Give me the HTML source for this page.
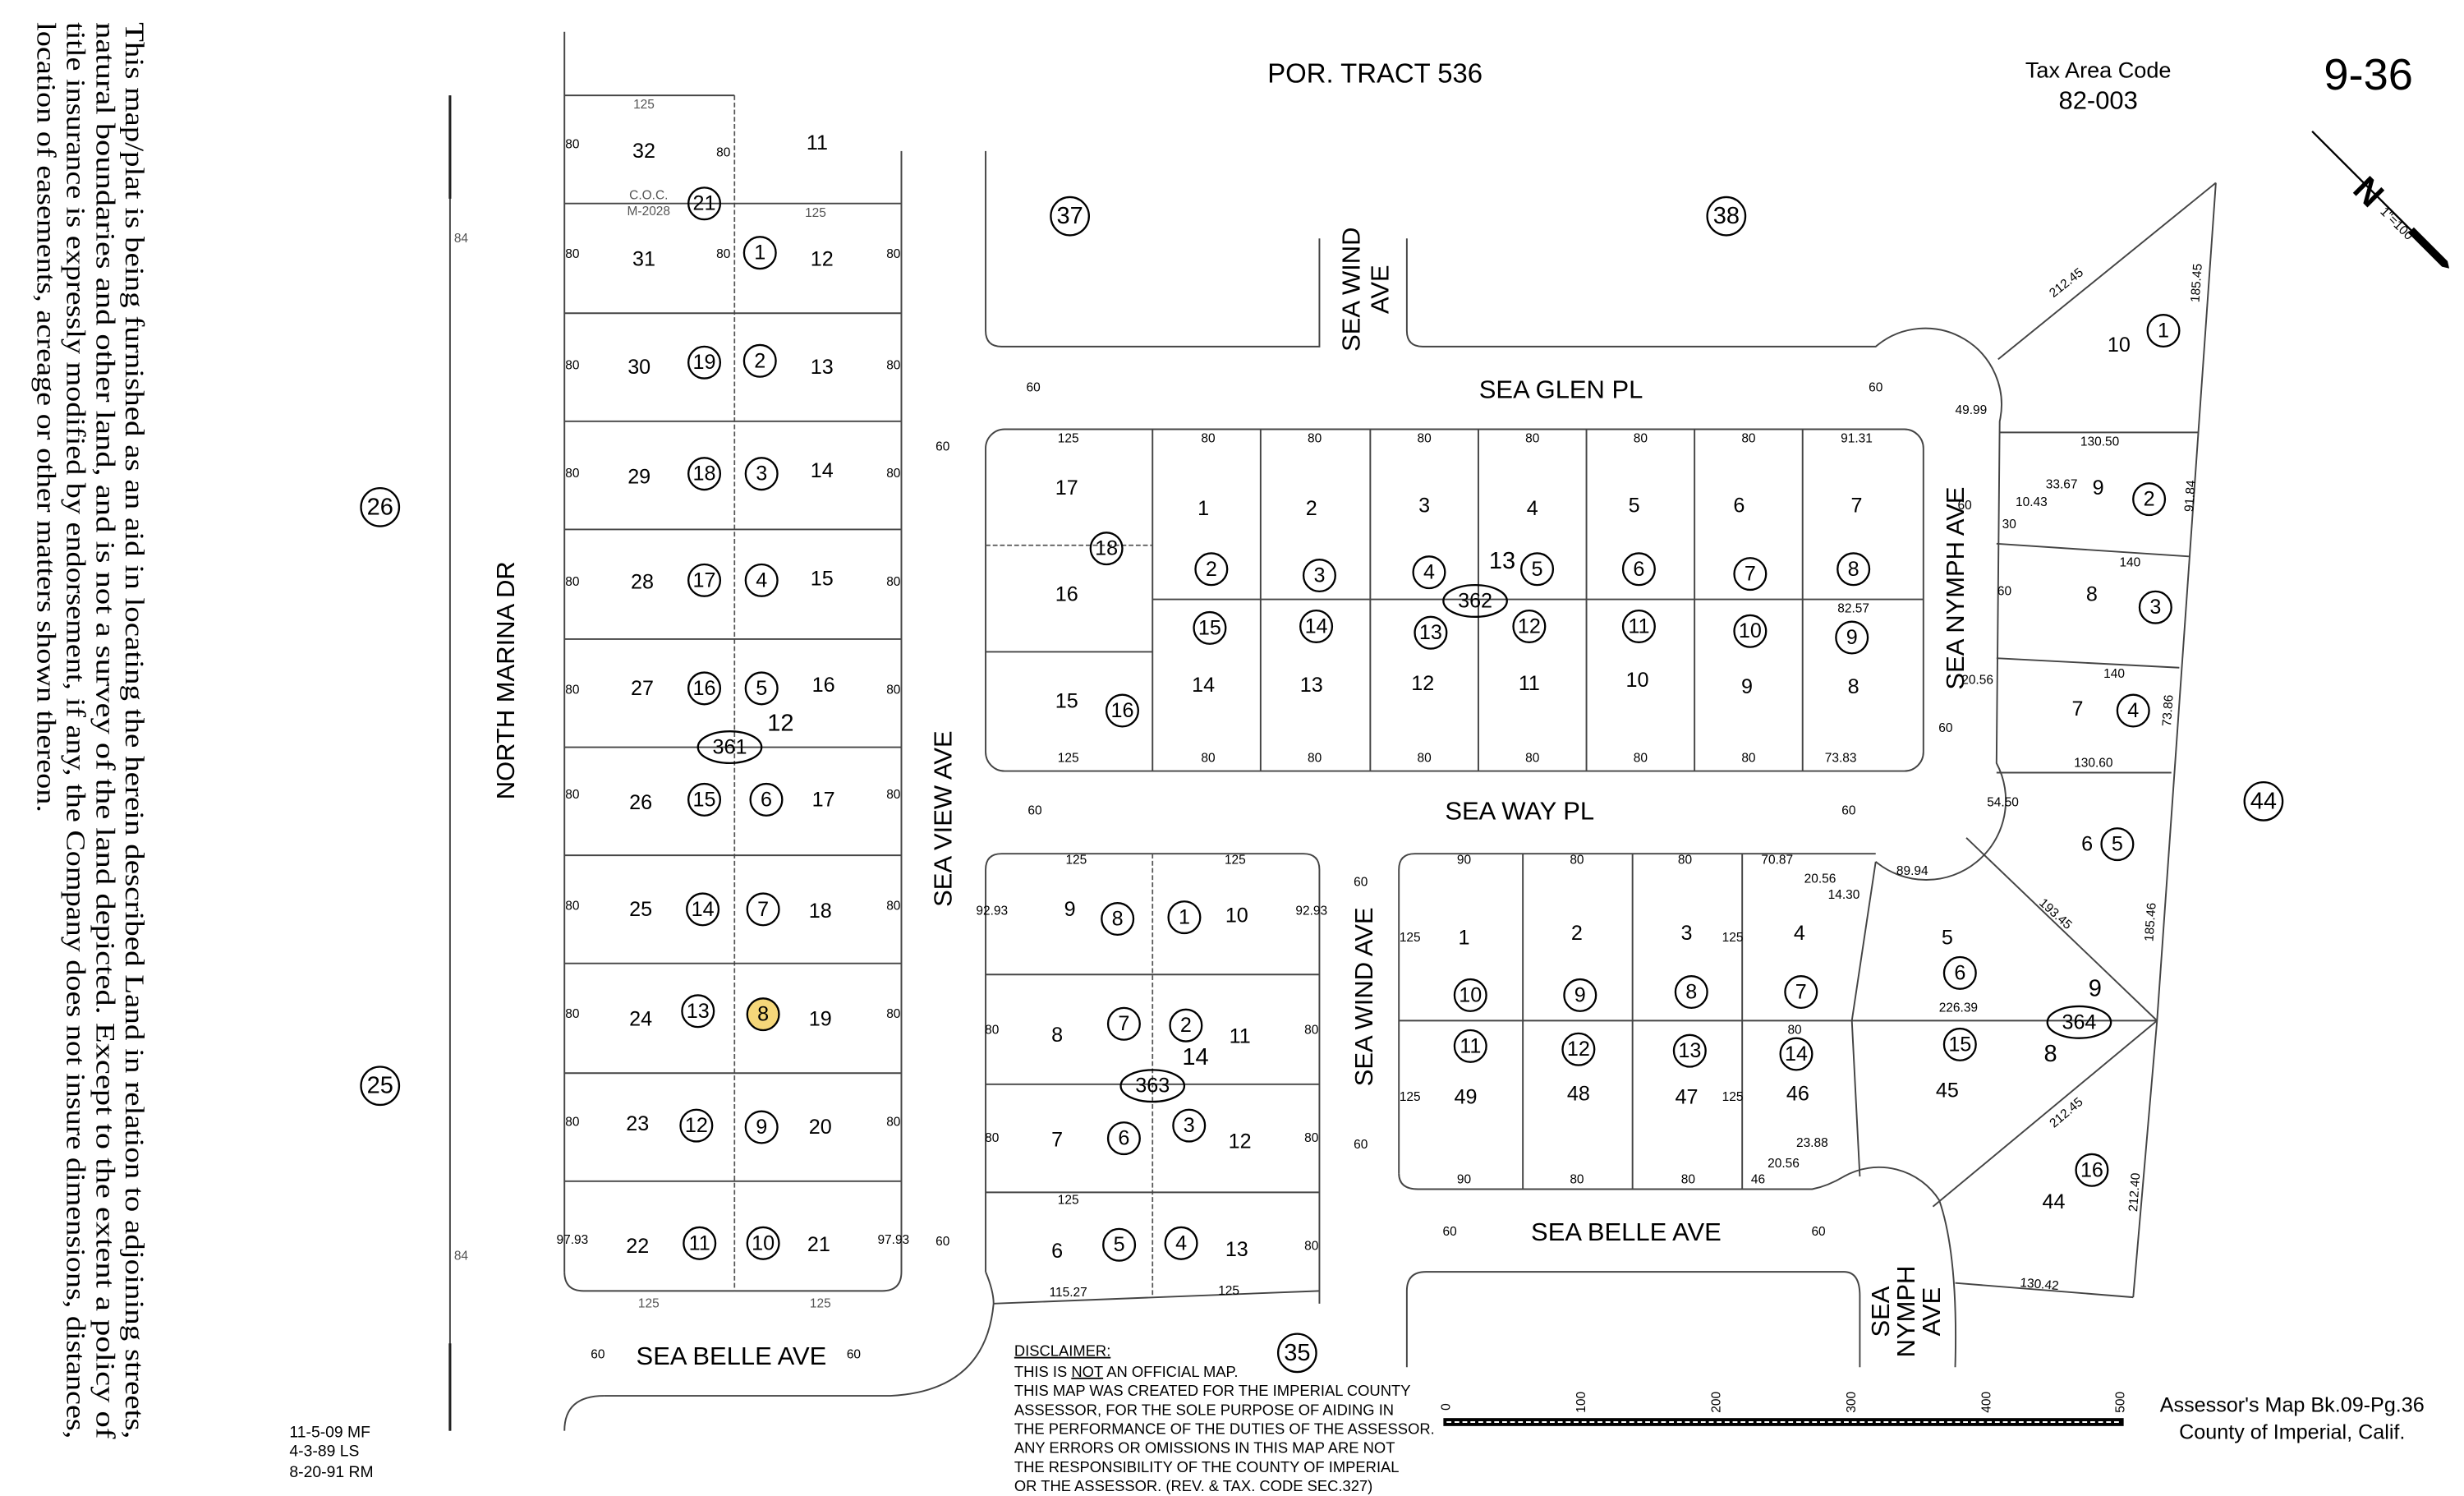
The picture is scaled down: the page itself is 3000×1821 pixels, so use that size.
<!DOCTYPE html>
<html><head><meta charset="utf-8">
<style>
html,body{margin:0;padding:0;background:#fff;}
svg{display:block;}
text{font-family:"Liberation Sans",sans-serif;fill:#000;}
.n{font-size:13px;text-anchor:middle;dominant-baseline:central;fill:#333;}
.d{font-size:8px;text-anchor:middle;dominant-baseline:central;fill:#555;}
.s{font-size:16px;text-anchor:middle;dominant-baseline:central;}
.c{fill:none;stroke:#000;stroke-width:1.2;}
.l{fill:none;stroke:#444;stroke-width:1;}
.dl{fill:none;stroke:#555;stroke-width:0.9;stroke-dasharray:3,1.5;}
.cn{font-size:13px;text-anchor:middle;dominant-baseline:central;}
</style></head>
<body>
<svg width="3000" height="1821" viewBox="0 0 1550 941" xmlns="http://www.w3.org/2000/svg">
<rect width="1550" height="941" fill="#fff"/>

<g transform="translate(79,14) rotate(90)">
<text x="0" y="0" textLength="891" lengthAdjust="spacingAndGlyphs" style="font-family:'Liberation Serif',serif;font-size:17px">This map/plat is being furnished as an aid in locating the herein described Land in relation to adjoining streets,</text>
<text x="0" y="18.5" textLength="891" lengthAdjust="spacingAndGlyphs" style="font-family:'Liberation Serif',serif;font-size:17px">natural boundaries and other land, and is not a survey of the land depicted. Except to the extent a policy of</text>
<text x="0" y="37" textLength="891" lengthAdjust="spacingAndGlyphs" style="font-family:'Liberation Serif',serif;font-size:17px">title insurance is expressly modified by endorsement, if any, the Company does not insure dimensions, distances,</text>
<text x="0" y="55.5" textLength="497" lengthAdjust="spacingAndGlyphs" style="font-family:'Liberation Serif',serif;font-size:17px">location of easements, acreage or other matters shown thereon.</text>
</g>

<line x1="283" y1="60" x2="283" y2="900" class="l"/>
<line x1="283" y1="60" x2="283" y2="125" stroke="#222" stroke-width="1.6"/>
<line x1="283" y1="845" x2="283" y2="900" stroke="#222" stroke-width="1.6"/>
<text class="d" x="290" y="150">84</text><text class="d" x="290" y="790">84</text>

<line x1="355" y1="20" x2="355" y2="800" class="l"/>
<path d="M355,800 Q355,812 367,812 H555 Q567,812 567,800 V95" class="l"/>
<line x1="355" y1="60" x2="462" y2="60" class="l"/>
<line x1="462" y1="60" x2="462" y2="812" class="dl"/>
<g class="l">
<line x1="355" y1="128" x2="567" y2="128"/><line x1="355" y1="197" x2="567" y2="197"/>
<line x1="355" y1="265" x2="567" y2="265"/><line x1="355" y1="333" x2="567" y2="333"/>
<line x1="355" y1="402" x2="567" y2="402"/><line x1="355" y1="470" x2="567" y2="470"/>
<line x1="355" y1="538" x2="567" y2="538"/><line x1="355" y1="606" x2="567" y2="606"/>
<line x1="355" y1="675" x2="567" y2="675"/><line x1="355" y1="743" x2="567" y2="743"/>
</g>
<text class="d" x="405" y="66">125</text><text class="d" x="513" y="134">125</text>
<text class="d" x="408" y="820">125</text><text class="d" x="516" y="820">125</text>
<text class="d" x="408" y="123">C.O.C.</text><text class="d" x="408" y="133">M-2028</text>
<g class="d">
<text x="360" y="91">80</text><text x="455" y="96">80</text>
<text x="360" y="160">80</text><text x="455" y="160">80</text><text x="562" y="160">80</text>
<text x="360" y="230">80</text><text x="562" y="230">80</text>
<text x="360" y="298">80</text><text x="562" y="298">80</text>
<text x="360" y="366">80</text><text x="562" y="366">80</text>
<text x="360" y="434">80</text><text x="562" y="434">80</text>
<text x="360" y="500">80</text><text x="562" y="500">80</text>
<text x="360" y="570">80</text><text x="562" y="570">80</text>
<text x="360" y="638">80</text><text x="562" y="638">80</text>
<text x="360" y="706">80</text><text x="562" y="706">80</text>
<text x="360" y="780">97.93</text><text x="562" y="780">97.93</text>
</g>
<g class="n">
<text x="405" y="95">32</text><text x="514" y="90">11</text>
<text x="405" y="163">31</text><text x="517" y="163">12</text>
<text x="402" y="231">30</text><text x="517" y="231">13</text>
<text x="402" y="300">29</text><text x="517" y="296">14</text>
<text x="404" y="366">28</text><text x="517" y="364">15</text>
<text x="404" y="433">27</text><text x="518" y="431">16</text>
<text x="403" y="505">26</text><text x="518" y="503">17</text>
<text x="403" y="572">25</text><text x="516" y="573">18</text>
<text x="403" y="641">24</text><text x="516" y="641">19</text>
<text x="401" y="707">23</text><text x="516" y="709">20</text>
<text x="401" y="784">22</text><text x="515" y="783">21</text>
</g>
<g>
<circle cx="443" cy="128" r="10" class="c"/><text class="cn" x="443" y="128">21</text>
<circle cx="478" cy="159" r="10" class="c"/><text class="cn" x="478" y="159">1</text>
<circle cx="443" cy="228" r="10" class="c"/><text class="cn" x="443" y="228">19</text>
<circle cx="478" cy="227" r="10" class="c"/><text class="cn" x="478" y="227">2</text>
<circle cx="443" cy="298" r="10" class="c"/><text class="cn" x="443" y="298">18</text>
<circle cx="479" cy="298" r="10" class="c"/><text class="cn" x="479" y="298">3</text>
<circle cx="443" cy="365" r="10" class="c"/><text class="cn" x="443" y="365">17</text>
<circle cx="479" cy="365" r="10" class="c"/><text class="cn" x="479" y="365">4</text>
<circle cx="443" cy="433" r="10" class="c"/><text class="cn" x="443" y="433">16</text>
<circle cx="479" cy="433" r="10" class="c"/><text class="cn" x="479" y="433">5</text>
<circle cx="443" cy="503" r="10" class="c"/><text class="cn" x="443" y="503">15</text>
<circle cx="482" cy="503" r="10" class="c"/><text class="cn" x="482" y="503">6</text>
<circle cx="442" cy="572" r="10" class="c"/><text class="cn" x="442" y="572">14</text>
<circle cx="480" cy="572" r="10" class="c"/><text class="cn" x="480" y="572">7</text>
<circle cx="439" cy="636" r="10" class="c"/><text class="cn" x="439" y="636">13</text>
<circle cx="480" cy="638" r="10" fill="#f5d77a" stroke="#000" stroke-width="1.2"/><text class="cn" x="480" y="638">8</text>
<circle cx="438" cy="708" r="10" class="c"/><text class="cn" x="438" y="708">12</text>
<circle cx="479" cy="709" r="10" class="c"/><text class="cn" x="479" y="709">9</text>
<circle cx="440" cy="782" r="10" class="c"/><text class="cn" x="440" y="782">11</text>
<circle cx="480" cy="782" r="10" class="c"/><text class="cn" x="480" y="782">10</text>
<ellipse cx="459" cy="470" rx="20" ry="10" class="c" fill="#fff"/><text class="cn" x="459" y="470">361</text>
<text class="cn" x="491" y="455" style="font-size:15px">12</text>
</g>

<text class="s" transform="translate(318,428) rotate(-90)">NORTH MARINA DR</text>

<circle cx="239" cy="319" r="12" class="c"/><text class="cn" x="239" y="319" style="font-size:15px">26</text>
<circle cx="239" cy="683" r="12" class="c"/><text class="cn" x="239" y="683" style="font-size:15px">25</text>
<circle cx="673" cy="136" r="12" class="c"/><text class="cn" x="673" y="136" style="font-size:15px">37</text>
<circle cx="1086" cy="136" r="12" class="c"/><text class="cn" x="1086" y="136" style="font-size:15px">38</text>
<circle cx="1424" cy="504" r="12" class="c"/><text class="cn" x="1424" y="504" style="font-size:15px">44</text>
<circle cx="816" cy="851" r="12" class="c"/><text class="cn" x="816" y="851" style="font-size:15px">35</text>

<text x="865" y="46" class="s" style="font-size:17px">POR. TRACT 536</text>
<text x="1320" y="44" class="s" style="font-size:14px">Tax Area Code</text>
<text x="1320" y="63" class="s" style="font-size:16px">82-003</text>
<text x="1490" y="47" class="s" style="font-size:28px">9-36</text>
<g transform="translate(1497,125) rotate(-45)">
<line x1="0" y1="-60" x2="0" y2="60" stroke="#000" stroke-width="1.2"/>
<polygon points="-2.5,28 2.5,28 2.5,58 0,62 -2.5,58" fill="#000"/>
<text x="-2" y="-8" class="s" style="font-size:22px;font-weight:bold" transform="rotate(90 -2 -8)">N</text>
<text x="-6" y="6" style="font-size:8px" transform="rotate(90 -6 6)">1"=100'</text>
</g>

<path d="M620,95 V208 Q620,218 630,218 H830 V150" class="l"/>
<path d="M885,150 V208 Q885,218 895,218 H1180 A48,48 0 0 1 1258,265 L1256,480 A50,50 0 0 1 1180,542" class="l"/>
<text class="s" transform="translate(850,182) rotate(-90)">SEA WIND</text>
<text class="s" transform="translate(868,182) rotate(-90)">AVE</text>
<text class="s" x="982" y="245">SEA GLEN PL</text>
<text class="s" transform="translate(1230,370) rotate(-90)">SEA NYMPH AVE</text>
<text class="s" x="956" y="510">SEA WAY PL</text>
<text class="s" transform="translate(593,515) rotate(-90)">SEA VIEW AVE</text>
<text class="s" transform="translate(858,627) rotate(-90)">SEA WIND AVE</text>
<text class="s" x="1023" y="775">SEA BELLE AVE</text>
<text class="s" x="460" y="853">SEA BELLE AVE</text>
<text class="s" transform="translate(1183,825) rotate(-90)">SEA</text>
<text class="s" transform="translate(1199,825) rotate(-90)">NYMPH</text>
<text class="s" transform="translate(1215,825) rotate(-90)">AVE</text>
<g class="d"><text x="650" y="244">60</text><text x="1180" y="244">60</text><text x="593" y="281">60</text><text x="1236" y="318">60</text><text x="1261" y="372">60</text><text x="651" y="510">60</text><text x="1163" y="510">60</text><text x="1224" y="458">60</text><text x="856" y="555">60</text><text x="856" y="720">60</text><text x="593" y="781">60</text><text x="912" y="775">60</text><text x="1144" y="775">60</text><text x="376" y="852">60</text><text x="537" y="852">60</text></g>

<rect x="620" y="270" width="590" height="215" rx="12" class="l"/>
<g class="l">
<line x1="725" y1="270" x2="725" y2="485"/><line x1="793" y1="270" x2="793" y2="485"/>
<line x1="862" y1="270" x2="862" y2="485"/><line x1="930" y1="270" x2="930" y2="485"/>
<line x1="998" y1="270" x2="998" y2="485"/><line x1="1066" y1="270" x2="1066" y2="485"/>
<line x1="1134" y1="270" x2="1134" y2="485"/>
<line x1="725" y1="377" x2="1210" y2="377"/><line x1="620" y1="410" x2="725" y2="410"/>
</g>
<line x1="620" y1="343" x2="725" y2="343" class="dl"/>
<g class="d">
<text x="672" y="276">125</text><text x="760" y="276">80</text><text x="827" y="276">80</text><text x="896" y="276">80</text><text x="964" y="276">80</text><text x="1032" y="276">80</text><text x="1100" y="276">80</text><text x="1168" y="276">91.31</text>
<text x="672" y="477">125</text><text x="760" y="477">80</text><text x="827" y="477">80</text><text x="896" y="477">80</text><text x="964" y="477">80</text><text x="1032" y="477">80</text><text x="1100" y="477">80</text><text x="1158" y="477">73.83</text>
<text x="1166" y="383">82.57</text>
</g>
<g class="n">
<text x="671" y="307">17</text><text x="671" y="374">16</text><text x="671" y="441">15</text>
<text x="757" y="320">1</text><text x="825" y="320">2</text><text x="896" y="318">3</text><text x="964" y="320">4</text><text x="1028" y="318">5</text><text x="1094" y="318">6</text><text x="1168" y="318">7</text>
<text x="757" y="431">14</text><text x="825" y="431">13</text><text x="895" y="430">12</text><text x="962" y="430">11</text><text x="1030" y="428">10</text><text x="1099" y="432">9</text><text x="1166" y="432">8</text>
</g>
<g>
<circle cx="696" cy="345" r="10" class="c"/><text class="cn" x="696" y="345">18</text>
<circle cx="706" cy="447" r="10" class="c"/><text class="cn" x="706" y="447">16</text>
<circle cx="762" cy="358" r="10" class="c"/><text class="cn" x="762" y="358">2</text>
<circle cx="830" cy="362" r="10" class="c"/><text class="cn" x="830" y="362">3</text>
<circle cx="899" cy="360" r="10" class="c"/><text class="cn" x="899" y="360">4</text>
<circle cx="967" cy="358" r="10" class="c"/><text class="cn" x="967" y="358">5</text>
<circle cx="1031" cy="358" r="10" class="c"/><text class="cn" x="1031" y="358">6</text>
<circle cx="1101" cy="361" r="10" class="c"/><text class="cn" x="1101" y="361">7</text>
<circle cx="1166" cy="358" r="10" class="c"/><text class="cn" x="1166" y="358">8</text>
<circle cx="761" cy="395" r="10" class="c"/><text class="cn" x="761" y="395">15</text>
<circle cx="828" cy="394" r="10" class="c"/><text class="cn" x="828" y="394">14</text>
<circle cx="900" cy="398" r="10" class="c"/><text class="cn" x="900" y="398">13</text>
<circle cx="962" cy="394" r="10" class="c"/><text class="cn" x="962" y="394">12</text>
<circle cx="1031" cy="394" r="10" class="c"/><text class="cn" x="1031" y="394">11</text>
<circle cx="1101" cy="397" r="10" class="c"/><text class="cn" x="1101" y="397">10</text>
<circle cx="1165" cy="401" r="10" class="c"/><text class="cn" x="1165" y="401">9</text>
<ellipse cx="928" cy="378" rx="20" ry="10" class="c" fill="#fff"/><text class="cn" x="928" y="378">362</text>
<text class="cn" x="945" y="353" style="font-size:15px">13</text>
</g>

<path d="M620,800 V547 Q620,537 630,537 H820 Q830,537 830,547 V820" class="l"/>
<path d="M625,820 L830,812" class="l"/>
<path d="M620,800 Q625,812 625,820" class="l"/>
<path d="M380,878 H560 Q620,875 625,820" class="l"/>
<path d="M355,900 Q355,878 380,878" class="l"/>
<line x1="725" y1="537" x2="725" y2="815" class="dl"/>
<g class="l"><line x1="620" y1="613" x2="830" y2="613"/><line x1="620" y1="682" x2="830" y2="682"/><line x1="620" y1="750" x2="830" y2="750"/></g>
<g class="d"><text x="677" y="541">125</text><text x="777" y="541">125</text><text x="672" y="755">125</text><text x="773" y="812">125</text><text x="672" y="813">115.27</text>
<text x="624" y="573">92.93</text><text x="825" y="573">92.93</text><text x="624" y="648">80</text><text x="825" y="648">80</text><text x="624" y="716">80</text><text x="825" y="716">80</text><text x="825" y="784">80</text></g>
<g class="n"><text x="673" y="572">9</text><text x="778" y="576">10</text><text x="665" y="651">8</text><text x="780" y="652">11</text><text x="665" y="717">7</text><text x="780" y="718">12</text><text x="665" y="787">6</text><text x="778" y="786">13</text></g>
<g>
<circle cx="703" cy="578" r="10" class="c"/><text class="cn" x="703" y="578">8</text>
<circle cx="745" cy="577" r="10" class="c"/><text class="cn" x="745" y="577">1</text>
<circle cx="707" cy="644" r="10" class="c"/><text class="cn" x="707" y="644">7</text>
<circle cx="746" cy="645" r="10" class="c"/><text class="cn" x="746" y="645">2</text>
<circle cx="707" cy="716" r="10" class="c"/><text class="cn" x="707" y="716">6</text>
<circle cx="748" cy="708" r="10" class="c"/><text class="cn" x="748" y="708">3</text>
<circle cx="704" cy="783" r="10" class="c"/><text class="cn" x="704" y="783">5</text>
<circle cx="743" cy="782" r="10" class="c"/><text class="cn" x="743" y="782">4</text>
<ellipse cx="725" cy="683" rx="20" ry="10" class="c" fill="#fff"/><text class="cn" x="725" y="683">363</text>
<text class="cn" x="752" y="665" style="font-size:15px">14</text>
</g>

<path d="M880,738 V547 Q880,537 890,537 H1180" class="l"/>
<path d="M880,738 Q880,748 892,748 H1140 Q1150,746 1160,740 A45,45 0 0 1 1220,755 Q1232,790 1230,860" class="l"/>
<path d="M885,860 V812 Q885,800 897,800 H1160 Q1170,800 1170,815 V860" class="l"/>
<g class="l">
<line x1="958" y1="537" x2="958" y2="748"/><line x1="1027" y1="537" x2="1027" y2="748"/><line x1="1096" y1="537" x2="1096" y2="748"/>
<line x1="880" y1="642" x2="1357" y2="642"/>
<line x1="1180" y1="542" x2="1165" y2="642"/><line x1="1165" y1="642" x2="1170" y2="740"/>
<line x1="1237" y1="527" x2="1357" y2="642"/>
<line x1="1216" y1="759" x2="1357" y2="642"/>
<line x1="1230" y1="807" x2="1342" y2="816"/>
</g>
<g class="d"><text x="921" y="541">90</text><text x="992" y="541">80</text><text x="1060" y="541">80</text><text x="1118" y="541">70.87</text><text x="1203" y="548">89.94</text>
<text x="921" y="742">90</text><text x="992" y="742">80</text><text x="1062" y="742">80</text><text x="1106" y="742">46</text><text x="1129" y="648">80</text><text x="1232" y="634">226.39</text>
<text x="1145" y="553">20.56</text><text x="1160" y="563">14.30</text><text x="1140" y="719">23.88</text><text x="1122" y="732">20.56</text>
<text x="887" y="590">125</text><text x="887" y="690">125</text><text x="1090" y="590">125</text><text x="1090" y="690">125</text></g>
<g class="n"><text x="921" y="590">1</text><text x="992" y="587">2</text><text x="1061" y="587">3</text><text x="1132" y="587">4</text>
<text x="922" y="690">49</text><text x="993" y="688">48</text><text x="1061" y="690">47</text><text x="1131" y="688">46</text>
<text x="1225" y="590">5</text><text x="1225" y="686">45</text></g>
<g>
<circle cx="925" cy="626" r="10" class="c"/><text class="cn" x="925" y="626">10</text>
<circle cx="994" cy="626" r="10" class="c"/><text class="cn" x="994" y="626">9</text>
<circle cx="1064" cy="624" r="10" class="c"/><text class="cn" x="1064" y="624">8</text>
<circle cx="1133" cy="624" r="10" class="c"/><text class="cn" x="1133" y="624">7</text>
<circle cx="925" cy="658" r="10" class="c"/><text class="cn" x="925" y="658">11</text>
<circle cx="993" cy="660" r="10" class="c"/><text class="cn" x="993" y="660">12</text>
<circle cx="1063" cy="661" r="10" class="c"/><text class="cn" x="1063" y="661">13</text>
<circle cx="1130" cy="663" r="10" class="c"/><text class="cn" x="1130" y="663">14</text>
<circle cx="1233" cy="612" r="10" class="c"/><text class="cn" x="1233" y="612">6</text>
<circle cx="1233" cy="657" r="10" class="c"/><text class="cn" x="1233" y="657">15</text>
</g>

<!-- right triangle area -->
<g class="l">
<line x1="1394" y1="115" x2="1257" y2="226"/>
<line x1="1394" y1="115" x2="1357" y2="642"/>
<line x1="1357" y1="642" x2="1342" y2="816"/>
<line x1="1258" y1="272" x2="1383" y2="272"/>
<line x1="1256" y1="342" x2="1377" y2="350"/>
<line x1="1256" y1="414" x2="1371" y2="420"/>
<line x1="1256" y1="486" x2="1366" y2="486"/>
</g>
<g class="d"><text x="1300" y="178" transform="rotate(-38 1300 178)">212.45</text><text transform="translate(1382,178) rotate(-86)">185.45</text><text x="1321" y="278">130.50</text><text x="1340" y="354">140</text><text x="1330" y="424">140</text><text x="1317" y="480">130.60</text><text transform="translate(1378,312) rotate(-86)">91.84</text><text transform="translate(1364,447) rotate(-86)">73.86</text><text transform="translate(1353,580) rotate(-86)">185.46</text><text transform="translate(1343,750) rotate(-86)">212.40</text><text x="1283" y="808" transform="rotate(5 1283 808)">130.42</text><text x="1293" y="575" transform="rotate(42 1293 575)">193.45</text><text x="1300" y="700" transform="rotate(-40 1300 700)">212.45</text><text x="1240" y="258">49.99</text><text x="1297" y="305">33.67</text><text x="1278" y="316">10.43</text><text x="1264" y="330">30</text><text x="1244" y="428">20.56</text><text x="1260" y="505">54.50</text></g>
<g class="n"><text x="1333" y="217">10</text><text x="1320" y="307">9</text><text x="1316" y="374">8</text><text x="1307" y="446">7</text><text x="1313" y="531">6</text><text x="1292" y="756">44</text></g>
<g>
<circle cx="1361" cy="208" r="10" class="c"/><text class="cn" x="1361" y="208">1</text>
<circle cx="1352" cy="314" r="10" class="c"/><text class="cn" x="1352" y="314">2</text>
<circle cx="1356" cy="382" r="10" class="c"/><text class="cn" x="1356" y="382">3</text>
<circle cx="1342" cy="447" r="10" class="c"/><text class="cn" x="1342" y="447">4</text>
<circle cx="1332" cy="531" r="10" class="c"/><text class="cn" x="1332" y="531">5</text>
<circle cx="1316" cy="736" r="10" class="c"/><text class="cn" x="1316" y="736">16</text>
<ellipse cx="1308" cy="643" rx="20" ry="10" class="c" fill="#fff"/><text class="cn" x="1308" y="643">364</text>
<text class="cn" x="1318" y="622" style="font-size:15px">9</text>
<text class="cn" x="1290" y="663" style="font-size:15px">8</text>
</g>

<g style="font-size:9.5px">
<text x="638" y="853" text-decoration="underline">DISCLAIMER:</text>
<text x="638" y="866">THIS IS <tspan text-decoration="underline">NOT</tspan> AN OFFICIAL MAP.</text>
<text x="638" y="878">THIS MAP WAS CREATED FOR THE IMPERIAL COUNTY</text>
<text x="638" y="890">ASSESSOR, FOR THE SOLE PURPOSE OF AIDING IN</text>
<text x="638" y="902">THE PERFORMANCE OF THE DUTIES OF THE ASSESSOR.</text>
<text x="638" y="914">ANY ERRORS OR OMISSIONS IN THIS MAP ARE NOT</text>
<text x="638" y="926">THE RESPONSIBILITY OF THE COUNTY OF IMPERIAL</text>
<text x="638" y="938">OR THE ASSESSOR. (REV. &amp; TAX. CODE SEC.327)</text>
</g>
<g style="font-size:10px">
<text x="182" y="904">11-5-09 MF</text><text x="182" y="916">4-3-89 LS</text><text x="182" y="929">8-20-91 RM</text>
</g>
<rect x="908" y="892" width="428" height="5" fill="#000"/>
<line x1="910" y1="894.5" x2="1334" y2="894.5" stroke="#fff" stroke-width="1" stroke-dasharray="3,2"/>
<g class="d"><text transform="translate(910,885) rotate(-90)">0</text><text transform="translate(995,882) rotate(-90)">100</text><text transform="translate(1080,882) rotate(-90)">200</text><text transform="translate(1165,882) rotate(-90)">300</text><text transform="translate(1250,882) rotate(-90)">400</text><text transform="translate(1334,882) rotate(-90)">500</text></g>
<text x="1442" y="884" class="s" style="font-size:13px">Assessor's Map Bk.09-Pg.36</text>
<text x="1442" y="901" class="s" style="font-size:13px">County of Imperial, Calif.</text>
</svg>
</body></html>
